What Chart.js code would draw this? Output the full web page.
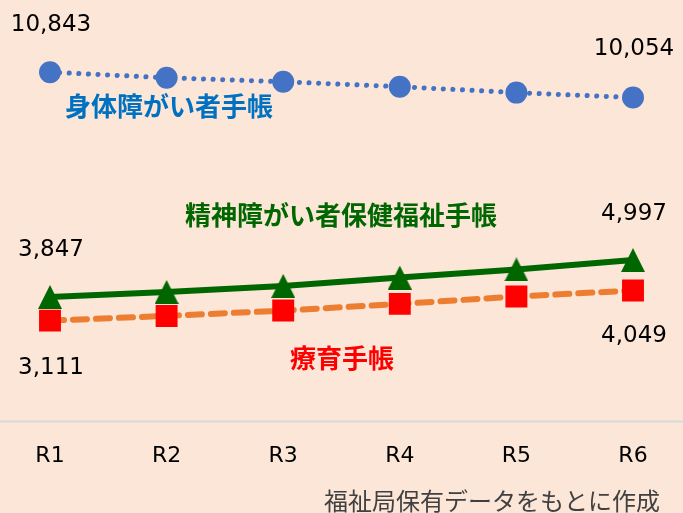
<!DOCTYPE html>
<html>
<head>
<meta charset="utf-8">
<script src="https://cdn.jsdelivr.net/npm/chart.js@4"></script>
<style>
  html, body { margin: 0; padding: 0; background: #FCE6D8; }
  #wrap { width: 683px; height: 513px; }
</style>
</head>
<body>
<div id="wrap"><canvas id="chart" width="683" height="513"></canvas></div>
<script>
// Data
const years = ['R1', 'R2', 'R3', 'R4', 'R5', 'R6'];
const physical = [10843, 10669, 10546, 10392, 10207, 10054];   // 身体障がい者手帳
const mental = [3847, 4004, 4192, 4453, 4704, 4997];           // 精神障がい者保健福祉手帳
const intellectual = [3111, 3257, 3424, 3632, 3861, 4049];     // 療育手帳
const seriesNames = ['身体障がい者手帳', '精神障がい者保健福祉手帳', '療育手帳'];
const sourceNote = '福祉局保有データをもとに作成';

const numFont = '"DejaVu Sans", Verdana, sans-serif';
const jpFont = '"Noto Sans CJK JP", sans-serif';

// Excel-like triangle marker (centered on its bounding box)
function makeTriangle(w, h, color) {
    const c = document.createElement('canvas');
    c.width = w; c.height = h;
    const g = c.getContext('2d');
    g.fillStyle = color;
    g.beginPath();
    g.moveTo(w / 2, 0);
    g.lineTo(w, h);
    g.lineTo(0, h);
    g.closePath();
    g.fill();
    return c;
}
const triangle = makeTriangle(24, 24, '#006600');

const fmt = v => v.toLocaleString('en-US');

// end-point value labels and series names
const labelPlugin = {
    id: 'labels',
    beforeDatasetsDraw(chart) {
        const { ctx, chartArea } = chart;
        ctx.save();
        ctx.strokeStyle = '#D9D9D9';
        ctx.lineWidth = 2;
        ctx.beginPath();
        ctx.moveTo(0, chartArea.bottom + 1);
        ctx.lineTo(chart.width, chartArea.bottom + 1);
        ctx.stroke();
        ctx.restore();
    },
    afterDatasetsDraw(chart) {
        const { ctx } = chart;
        const x = chart.scales.x;
        const y = chart.scales.y;
        ctx.save();
        ctx.fillStyle = '#000';
        ctx.font = '23px ' + numFont;
        ctx.textAlign = 'center';
        ctx.textBaseline = 'middle';

        const last = years.length - 1;
        // above / below end points
        const put = (arr, i, dy) => {
            ctx.fillText(fmt(arr[i]), x.getPixelForValue(i) + 1, y.getPixelForValue(arr[i]) + dy);
        };
        put(physical, 0, -47);
        put(physical, last, -49);
        put(mental, 0, -47);
        put(mental, last, -46);
        put(intellectual, 0, 47);
        put(intellectual, last, 46);

        // series names
        ctx.font = 'bold 26px ' + jpFont;
        ctx.textAlign = 'left';
        ctx.fillStyle = '#0070C0';
        ctx.fillText(seriesNames[0], 65, 106);
        ctx.fillStyle = '#006600';
        ctx.fillText(seriesNames[1], 185, 215);
        ctx.fillStyle = '#FF0000';
        ctx.fillText(seriesNames[2], 290, 358);

        // source note
        ctx.font = '24px ' + jpFont;
        ctx.fillStyle = '#404040';
        ctx.textAlign = 'right';
        ctx.fillText(sourceNote, 660, 501);
        ctx.restore();
    }
};

new Chart(document.getElementById('chart'), {
    type: 'line',
    data: {
        labels: years,
        datasets: [
            {
                label: seriesNames[0],
                data: physical,
                borderColor: '#4472C4',
                borderWidth: 5,
                borderDash: [0.1, 9.5],
                borderCapStyle: 'round',
                pointStyle: 'circle',
                pointRadius: 11,
                pointBackgroundColor: '#4472C4',
                pointBorderWidth: 0,
                tension: 0
            },
            {
                label: seriesNames[2],
                data: intellectual,
                borderColor: '#ED7D31',
                borderWidth: 6,
                borderDash: [14, 9],
                borderCapStyle: 'round',
                pointStyle: 'rect',
                pointRadius: 15.5,
                pointBackgroundColor: '#FF0000',
                pointBorderWidth: 0,
                tension: 0
            },
            {
                label: seriesNames[1],
                data: mental,
                borderColor: '#006600',
                borderWidth: 6,
                pointStyle: triangle,
                pointRadius: 12,
                tension: 0
            }
        ]
    },
    options: {
        responsive: false,
        animation: false,
        layout: { padding: { top: 35, left: 50, right: 50, bottom: 22 } },
        plugins: {
            legend: { display: false },
            tooltip: { enabled: false }
        },
        scales: {
            x: {
                offset: false,
                grid: { display: false, drawTicks: false },
                border: { display: false },
                ticks: {
                    color: '#000',
                    font: { family: numFont, size: 22 },
                    padding: 22
                }
            },
            y: {
                display: false,
                min: 0,
                max: 12000
            }
        }
    },
    plugins: [labelPlugin]
});
</script>
</body>
</html>
